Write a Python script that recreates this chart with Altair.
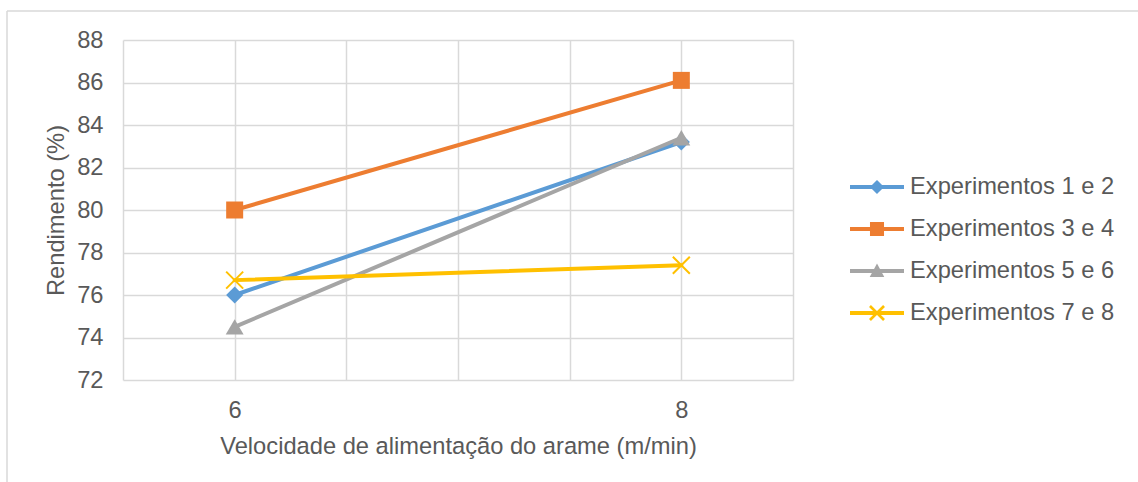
import altair as alt
import pandas as pd

# Feed speed (m/min) and yield (%) per pair of experiments
velocidade = [6, 8]
series = ["Experimentos 1 e 2", "Experimentos 3 e 4", "Experimentos 5 e 6", "Experimentos 7 e 8"]
exp_1_2 = [76.0, 83.2]
exp_3_4 = [80.0, 86.1]
exp_5_6 = [74.5, 83.4]
exp_7_8 = [76.7, 77.4]
cores = ["#5B9BD5", "#ED7D31", "#A5A5A5", "#FFC000"]

rows = []
for nome, vals in zip(series, [exp_1_2, exp_3_4, exp_5_6, exp_7_8]):
    for v, r in zip(velocidade, vals):
        rows.append({"serie": nome, "vel": v, "rend": r})
df = pd.DataFrame(rows)

FONT = "Liberation Sans"
TXT = "#595959"
GRID = "#D9D9D9"
FS = 23.7

# Grid every half unit, labels only on the measured speeds
x_enc = alt.X(
    "vel:Q",
    scale=alt.Scale(domain=[5.5, 8.5], nice=False, zero=False),
    axis=alt.Axis(
        values=[5.5, 6, 6.5, 7, 7.5, 8, 8.5],
        labelExpr="(datum.value == 6 || datum.value == 8) ? format(datum.value, 'd') : ''",
        title="Velocidade de alimentação do arame (m/min)",
        labelPadding=18,
        titlePadding=13,
        labelFlush=False,
    ),
)
y_enc = alt.Y(
    "rend:Q",
    scale=alt.Scale(domain=[72, 88], nice=False, zero=False),
    axis=alt.Axis(
        values=list(range(72, 90, 2)),
        format="d",
        title="Rendimento (%)",
        labelPadding=20,
        titlePadding=8,
    ),
)

# Marker style for each series: (shape, size, filled)
marcadores = [
    ("diamond", 290, True),
    ("square", 289, True),
    ("triangle-up", 320, True),
    ("M-1,-1L1,1M-1,1L1,-1", 289, False),
]

# Legend glyphs: a line segment with the series marker in its middle
t = 0.074
linha = f"M-1,{-t}L1,{-t}L1,{t}L-1,{t}Z"
a, w = 0.26, 0.035
simbolos = [
    linha + f"M0,{-a}L{a},0L0,{a}L{-a},0Z",
    linha + f"M{-a},{-a}L{a},{-a}L{a},{a}L{-a},{a}Z",
    linha + "M0,-0.28L0.27,0.22L-0.27,0.22Z",
    linha
    + f"M{-a+w},{-a-w}L{a+w},{a-w}L{a-w},{a+w}L{-a-w},{-a+w}Z"
    + f"M{-a-w},{a-w}L{a-w},{-a-w}L{a+w},{-a+w}L{-a+w},{a+w}Z",
]

base = alt.Chart(df)
layers = []
for nome, cor, (shape, size, filled) in zip(series, cores, marcadores):
    serie = base.transform_filter(alt.datum.serie == nome)
    layers.append(
        serie.mark_line(color=cor, strokeWidth=4, strokeCap="round").encode(x=x_enc, y=y_enc)
    )
    if filled:
        pt = serie.mark_point(shape=shape, size=size, filled=True, color=cor, opacity=1, strokeWidth=0)
    else:
        pt = serie.mark_point(shape=shape, size=size, filled=False, color=cor, opacity=1, strokeWidth=2)
    layers.append(pt.encode(x=x_enc, y=y_enc))

leg = alt.Legend(
    title=None,
    orient="none",
    legendX=727,
    legendY=132,
    padding=0,
    labelFont=FONT,
    labelFontSize=FS,
    labelColor=TXT,
    labelOffset=6,
    labelLimit=400,
    rowPadding=12,
    clipHeight=30,
    symbolSize=2916,
    symbolOpacity=1,
    symbolStrokeWidth=0,
)
legenda = base.mark_point(filled=True, opacity=0).encode(
    x=x_enc,
    y=y_enc,
    color=alt.Color("serie:N", scale=alt.Scale(domain=series, range=cores), legend=leg),
    shape=alt.Shape("serie:N", scale=alt.Scale(domain=series, range=simbolos), legend=leg),
)

# Outer frame of the chart area
um = alt.Data(values=[{"k": 1}])
borda_top = alt.Chart(um).mark_rule(color=GRID, strokeWidth=1.5).encode(
    x=alt.value(-116), x2=alt.value(1100), y=alt.value(-29)
)
borda_esq = alt.Chart(um).mark_rule(color=GRID, strokeWidth=1.5).encode(
    x=alt.value(-116), y=alt.value(-29), y2=alt.value(500)
)

chart = (
    alt.layer(borda_top, borda_esq, *layers, legenda)
    .properties(
        width=670,
        height=340,
        autosize=alt.AutoSizeParams(type="none"),
        padding={"left": 123, "top": 40, "right": 345, "bottom": 102},
        background="white",
    )
    .configure_view(stroke=None)
    .configure_axis(
        grid=True,
        gridColor=GRID,
        gridWidth=1.5,
        domain=False,
        ticks=False,
        tickSize=0,
        labelFont=FONT,
        labelFontSize=FS,
        labelColor=TXT,
        titleFont=FONT,
        titleFontSize=FS,
        titleColor=TXT,
        titleFontWeight="normal",
    )
)

chart.save("out.html", embed_options={"renderer": "svg", "actions": False})
